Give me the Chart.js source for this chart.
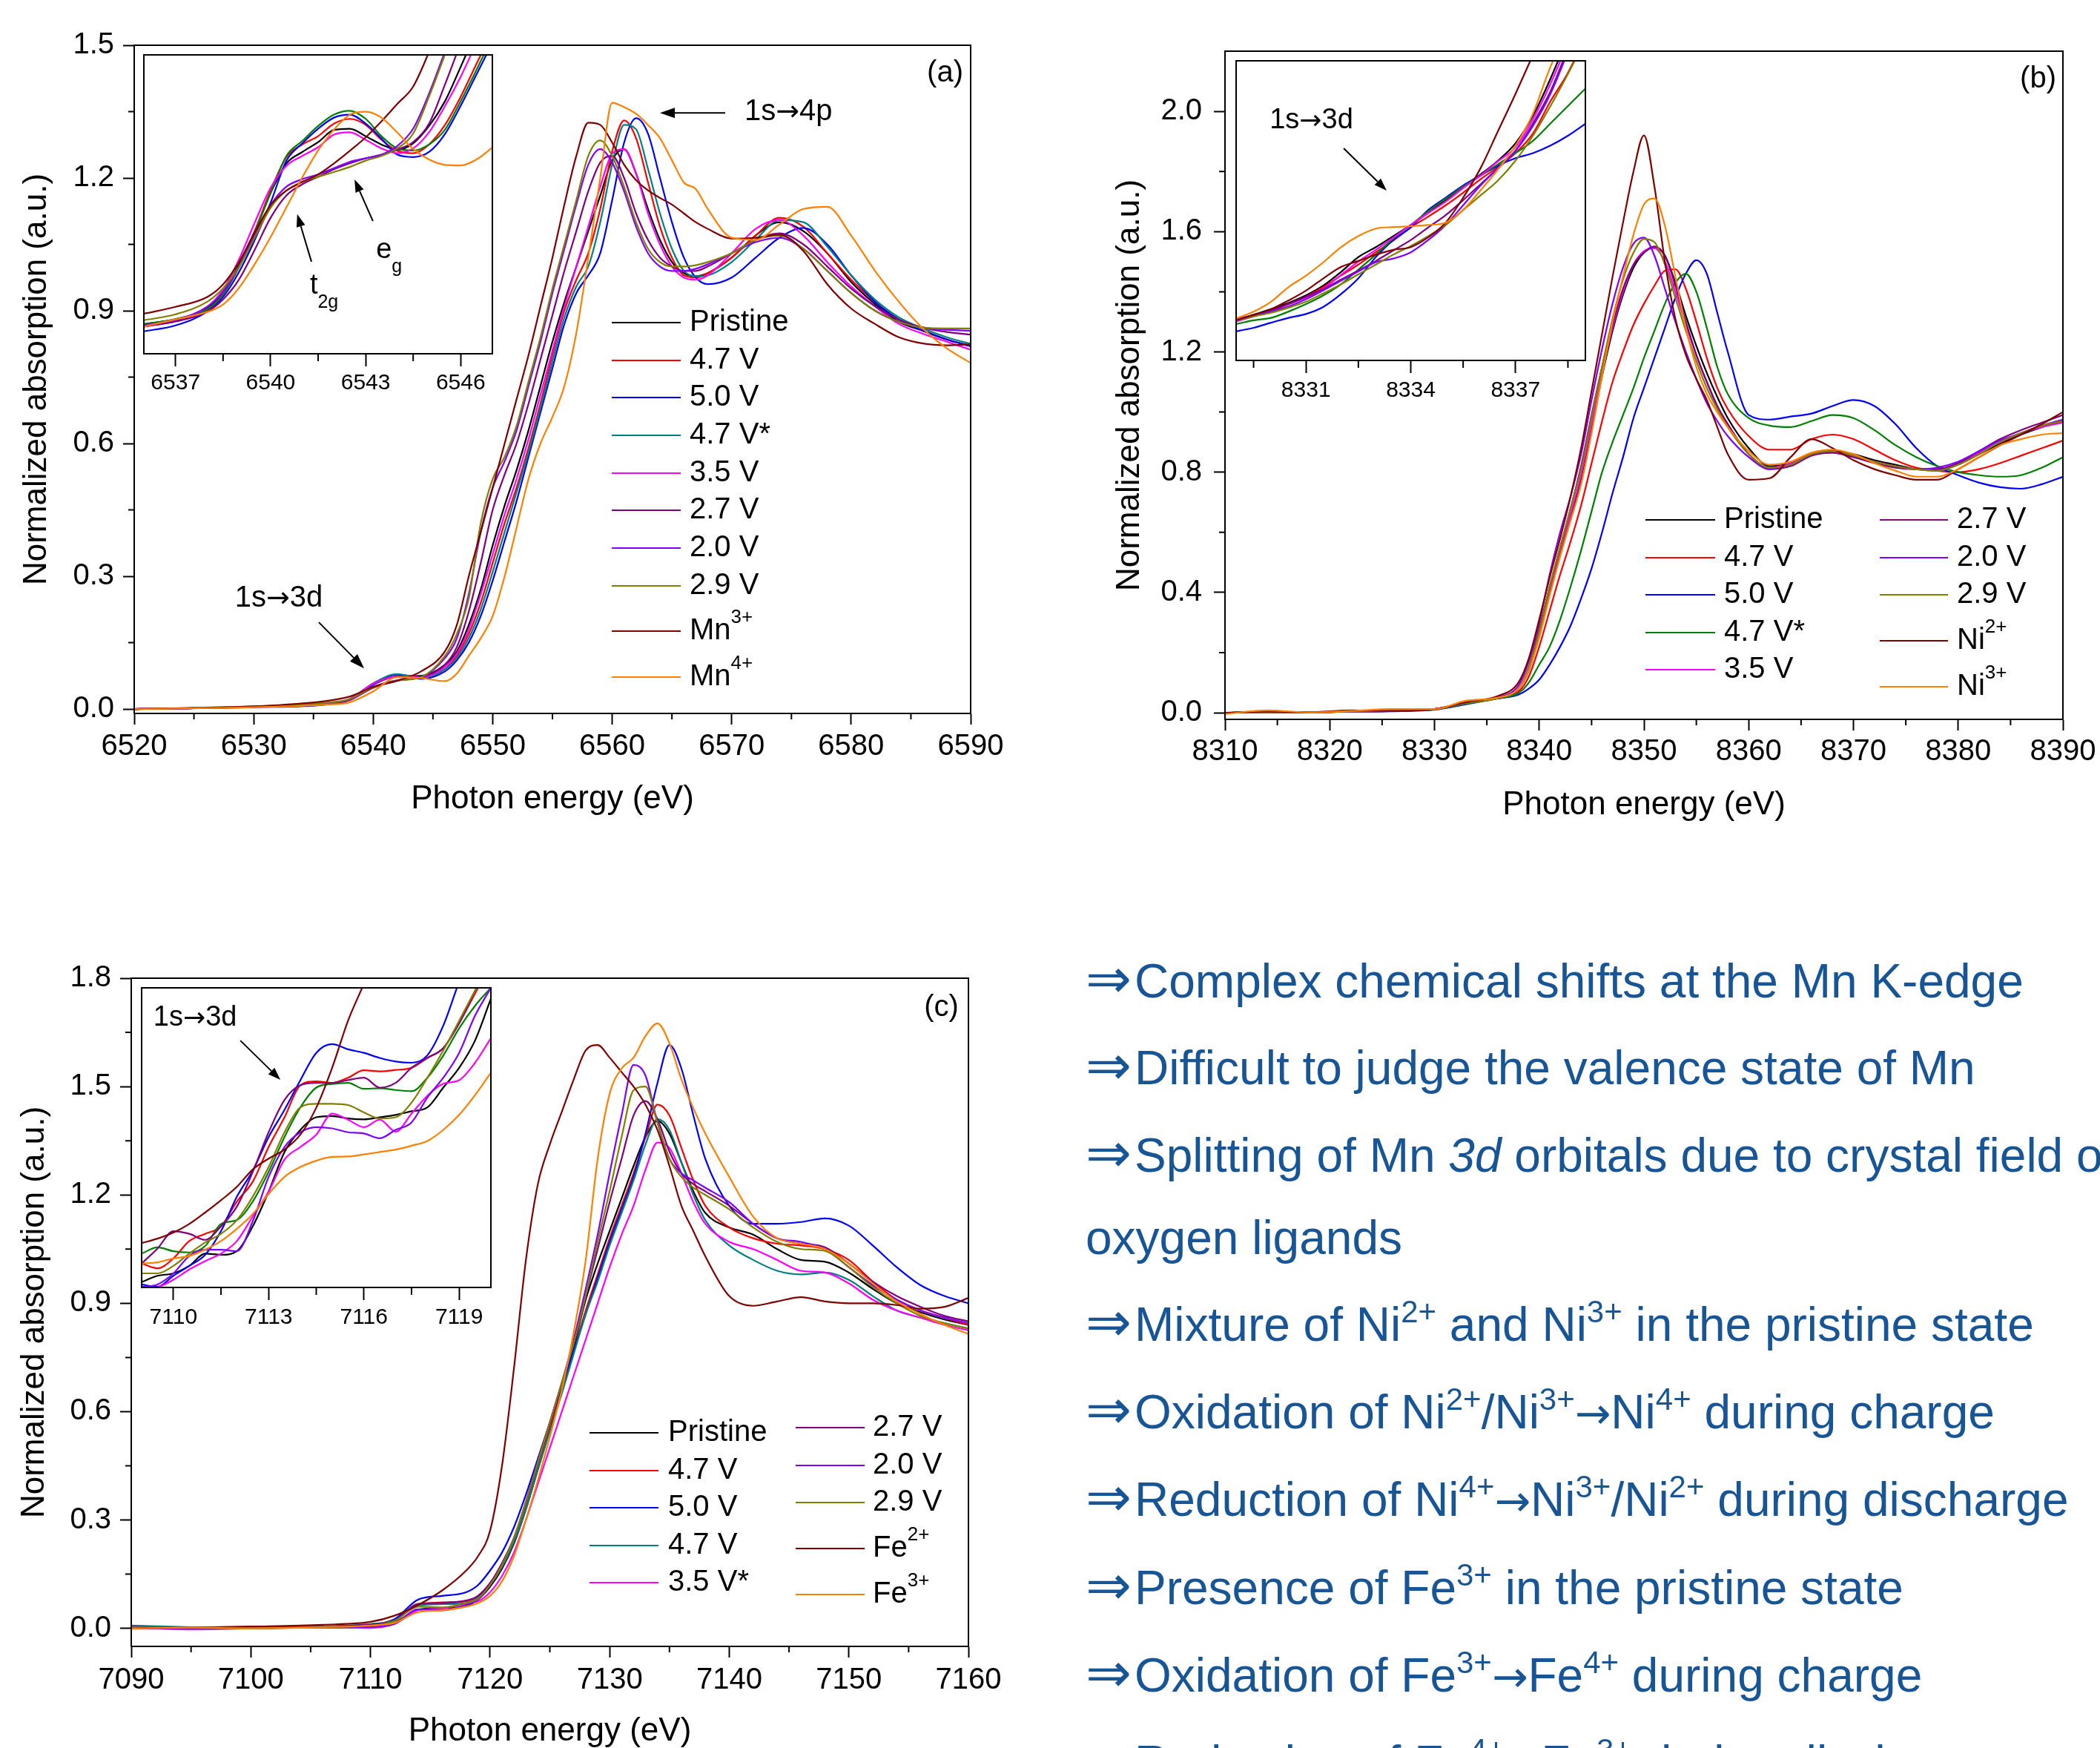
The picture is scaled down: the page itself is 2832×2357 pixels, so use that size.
<!DOCTYPE html>
<html><head><meta charset="utf-8">
<script src="https://cdn.jsdelivr.net/npm/chart.js@4.4.1/dist/chart.umd.min.js"></script>
<style>
html,body{margin:0;padding:0;background:#fff;}
body{width:2832px;height:2357px;position:relative;overflow:hidden;font-family:"Liberation Sans",Arial,sans-serif;}
canvas{position:absolute;}
#notes{position:absolute;left:1464px;top:0;width:1368px;height:2357px;color:#175596;font-size:64px;white-space:nowrap;overflow:hidden;}
.ln{position:absolute;left:0;line-height:64px;height:64px;}
.ar{display:inline-block;width:66px;font-family:"DejaVu Sans",sans-serif;font-size:74px;line-height:0;}
.ra{font-family:"DejaVu Sans",sans-serif;font-size:58px;line-height:0;}
sup{font-size:42px;vertical-align:25px;line-height:0;}
</style></head>
<body>
<canvas id="cA" width="1400" height="1130" style="left:0;top:0;width:1400px;height:1130px"></canvas>
<canvas id="cB" width="1352" height="1140" style="left:1480px;top:0;width:1352px;height:1140px"></canvas>
<canvas id="cC" width="1400" height="1140" style="left:0;top:1250px;width:1400px;height:1140px"></canvas>
<canvas id="iA" width="476" height="460" style="left:192px;top:72px;width:476px;height:460px"></canvas>
<canvas id="iB" width="480" height="460" style="left:1663px;top:78px;width:480px;height:460px"></canvas>
<canvas id="iC" width="480" height="460" style="left:187px;top:1328px;width:480px;height:460px"></canvas>
<div id="notes">
<div class="ln" style="top:1291px"><span class="ar">⇒</span>Complex chemical shifts at the Mn K-edge</div>
<div class="ln" style="top:1408px"><span class="ar">⇒</span>Difficult to judge the valence state of Mn</div>
<div class="ln" style="top:1526px"><span class="ar">⇒</span>Splitting of Mn <i>3d</i> orbitals due to crystal field of</div>
<div class="ln" style="top:1637px">oxygen ligands</div>
<div class="ln" style="top:1754px"><span class="ar">⇒</span>Mixture of Ni<sup>2+</sup> and Ni<sup>3+</sup> in the pristine state</div>
<div class="ln" style="top:1872px"><span class="ar">⇒</span>Oxidation of Ni<sup>2+</sup>/Ni<sup>3+</sup><span class="ra">→</span>Ni<sup>4+</sup> during charge</div>
<div class="ln" style="top:1990px"><span class="ar">⇒</span>Reduction of Ni<sup>4+</sup><span class="ra">→</span>Ni<sup>3+</sup>/Ni<sup>2+</sup> during discharge</div>
<div class="ln" style="top:2109px"><span class="ar">⇒</span>Presence of Fe<sup>3+</sup> in the pristine state</div>
<div class="ln" style="top:2227px"><span class="ar">⇒</span>Oxidation of Fe<sup>3+</sup><span class="ra">→</span>Fe<sup>4+</sup> during charge</div>
<div class="ln" style="top:2345px"><span class="ar">⇒</span>Reduction of Fe<sup>4+</sup><span class="ra">→</span>Fe<sup>3+</sup> during discharge</div>
</div>
<script>
// ================= DATA =================
const labelsA = ['Pristine','4.7 V','5.0 V','4.7 V*','3.5 V','2.7 V','2.0 V','2.9 V','Mn^{3+}','Mn^{4+}'];
const labelsB = ['Pristine','4.7 V','5.0 V','4.7 V*','3.5 V','2.7 V','2.0 V','2.9 V','Ni^{2+}','Ni^{3+}'];
const labelsC = ['Pristine','4.7 V','5.0 V','4.7 V','3.5 V*','2.7 V','2.0 V','2.9 V','Fe^{2+}','Fe^{3+}'];
const colorsTeal  = ['#000000','#ff0000','#0000ff','#008080','#ff00ff','#800080','#8000ff','#808000','#800000','#ff8000'];
const colorsGreen = ['#000000','#ff0000','#0000ff','#008000','#ff00ff','#800080','#8000ff','#808000','#800000','#ff8000'];

// ---- Panel (a): Mn K-edge ----
const xTicksA = [6520,6530,6540,6550,6560,6570,6580,6590];
const yTicksA = [0.0,0.3,0.6,0.9,1.2,1.5];
const XA = [6520,6530,6536,6538,6540,6542,6544,6546,6547,6548,6549,6550,6551,6552,6553,6554,6555,6556,6557,6558,6559,6560,6561,6562,6563,6564,6565,6566,6567,6568,6570,6572,6574,6576,6578,6580,6582,6584,6586,6588,6590];
const A_pristine = [0.000,0.005,0.012,0.022,0.055, 0.074,0.075,0.100,0.130,0.190, 0.270,0.370,0.460,0.540,0.630,0.730,0.830,0.920,1.000,1.080, 1.160,1.240,1.265,1.210,1.130,1.060,1.010,0.985,0.978,0.985, 1.020,1.070,1.100,1.080,1.030, 0.965,0.915,0.875,0.855,0.835,0.820];
const A_47 = [0.000,0.005,0.012,0.022,0.058, 0.078,0.072,0.090,0.120,0.170, 0.240,0.330,0.420,0.500,0.590,0.690,0.800,0.900,0.970,1.030, 1.130,1.260,1.330,1.290,1.190,1.090,1.020,0.980,0.975,0.985, 1.020,1.070,1.110,1.090,1.030, 0.970,0.920,0.880,0.855,0.835,0.820];
const A_50 = [0.000,0.004,0.010,0.020,0.055, 0.078,0.068,0.085,0.110,0.150, 0.210,0.290,0.380,0.470,0.570,0.670,0.770,0.870,0.940,0.980, 1.030,1.150,1.280,1.335,1.300,1.200,1.100,1.020,0.975,0.960, 0.975,1.020,1.065,1.087,1.050, 0.980,0.920,0.880,0.855,0.835,0.820];
const A_47s = [0.000,0.005,0.012,0.022,0.058, 0.079,0.070,0.090,0.115,0.160, 0.225,0.310,0.400,0.490,0.580,0.680,0.785,0.885,0.955,1.000, 1.100,1.230,1.320,1.310,1.220,1.120,1.040,0.990,0.978,0.980, 1.010,1.060,1.105,1.100,1.045, 0.980,0.925,0.885,0.860,0.840,0.825];
const A_35 = [0.000,0.005,0.012,0.022,0.057, 0.073,0.072,0.095,0.125,0.180, 0.260,0.350,0.440,0.520,0.610,0.710,0.810,0.910,1.000,1.090, 1.180,1.255,1.265,1.210,1.120,1.050,1.000,0.975,0.970,0.980, 1.030,1.085,1.105,1.070,1.010, 0.955,0.910,0.870,0.848,0.830,0.812];
const A_27 = [0.000,0.005,0.012,0.020,0.048, 0.064,0.072,0.100,0.140,0.220, 0.330,0.450,0.530,0.600,0.690,0.790,0.890,0.990,1.080,1.170, 1.235,1.250,1.200,1.120,1.060,1.020,1.000,0.990,0.990,1.000, 1.030,1.060,1.075,1.050,1.000, 0.950,0.910,0.880,0.862,0.852,0.846];
const A_20 = [0.000,0.005,0.013,0.021,0.050, 0.065,0.072,0.115,0.160,0.260, 0.400,0.500,0.560,0.630,0.730,0.830,0.940,1.040,1.140,1.230, 1.265,1.235,1.170,1.090,1.030,1.000,0.990,0.990,0.995,1.005, 1.030,1.055,1.065,1.040,0.990, 0.940,0.900,0.875,0.862,0.857,0.855];
const A_29 = [0.000,0.006,0.014,0.022,0.049, 0.064,0.072,0.120,0.170,0.250, 0.420,0.520,0.570,0.640,0.740,0.840,0.950,1.050,1.150,1.250, 1.285,1.250,1.180,1.100,1.040,1.010,1.000,1.000,1.003,1.010, 1.030,1.060,1.070,1.040,0.990, 0.940,0.900,0.875,0.862,0.860,0.860];
const A_mn3 = [0.000,0.006,0.018,0.028,0.050, 0.064,0.085,0.130,0.190,0.300, 0.400,0.500,0.600,0.700,0.800,0.910,1.020,1.140,1.250,1.325, 1.320,1.280,1.230,1.195,1.172,1.155,1.140,1.120,1.100,1.085, 1.063,1.065,1.072,1.035,0.960, 0.905,0.870,0.840,0.826,0.822,0.824];
const A_mn4 = [0.000,0.004,0.010,0.015,0.040, 0.072,0.070,0.063,0.080,0.120, 0.160,0.210,0.300,0.410,0.520,0.600,0.660,0.730,0.850,1.020, 1.200,1.370,1.360,1.345,1.320,1.290,1.240,1.190,1.175,1.130, 1.065,1.060,1.095,1.130,1.135, 1.070,0.990,0.920,0.860,0.815,0.782];

// inset (a): pre-edge 6536-6547 eV
const xTicksAi = [6537,6540,6543,6546];
const XAi = [6536,6537,6538,6538.5,6539,6539.5,6540,6540.5,6541,6541.5,6542,6542.5,6543,6543.5,6544,6544.5,6545,6545.5,6546,6546.5,6547];
const iA_pristine = [0.0099,0.0116,0.0153,0.0207,0.0298,0.0410,0.0538,0.0637,0.0675,0.0708,0.0749,0.0753,0.0728,0.0700,0.0683,0.0704,0.0762,0.0844,0.0960,0.1080,0.1200];
const iA_47 = [0.0091,0.0109,0.0145,0.0199,0.0290,0.0410,0.0546,0.0658,0.0700,0.0728,0.0770,0.0786,0.0766,0.0716,0.0679,0.0671,0.0700,0.0765,0.0860,0.0970,0.1080];
const iA_50 = [0.0075,0.0095,0.0141,0.0190,0.0273,0.0381,0.0505,0.0646,0.0704,0.0753,0.0790,0.0800,0.0770,0.0720,0.0666,0.0658,0.0675,0.0735,0.0830,0.0935,0.1040];
const iA_47s = [0.0099,0.0116,0.0149,0.0199,0.0290,0.0406,0.0538,0.0662,0.0712,0.0762,0.0800,0.0813,0.0786,0.0728,0.0687,0.0680,0.0700,0.0749,0.0845,0.0950,0.1060];
const iA_35 = [0.0091,0.0112,0.0157,0.0215,0.0315,0.0439,0.0555,0.0629,0.0662,0.0691,0.0733,0.0741,0.0716,0.0687,0.0671,0.0687,0.0741,0.0828,0.0927,0.1040,0.1150];
const iA_27 = [0.0091,0.0108,0.0141,0.0182,0.0248,0.0348,0.0455,0.0530,0.0567,0.0592,0.0617,0.0637,0.0654,0.0666,0.0683,0.0708,0.0770,0.0900,0.1040,0.1180,0.1300];
const iA_20 = [0.0095,0.0113,0.0157,0.0207,0.0290,0.0397,0.0497,0.0559,0.0584,0.0600,0.0621,0.0642,0.0654,0.0666,0.0695,0.0753,0.0870,0.1010,0.1150,0.1300,0.1450];
const iA_29 = [0.0112,0.0132,0.0174,0.0219,0.0290,0.0389,0.0488,0.0546,0.0575,0.0592,0.0608,0.0625,0.0646,0.0662,0.0687,0.0737,0.0860,0.1000,0.1140,0.1280,0.1420];
const iA_mn3 = [0.0134,0.0157,0.0190,0.0232,0.0306,0.0406,0.0497,0.0546,0.0575,0.0600,0.0637,0.0679,0.0724,0.0778,0.0836,0.0894,0.1010,0.1150,0.1300,0.1450,0.1600];
const iA_mn4 = [0.0091,0.0115,0.0140,0.0165,0.0220,0.0300,0.0390,0.0490,0.0590,0.0680,0.0750,0.0800,0.0810,0.0790,0.0740,0.0685,0.0650,0.0632,0.0630,0.0650,0.0690];

// ---- Panel (b): Ni K-edge ----
const xTicksB = [8310,8320,8330,8340,8350,8360,8370,8380,8390];
const yTicksB = [0.0,0.4,0.8,1.2,1.6,2.0];
const XB = [8310,8314,8318,8322,8326,8330,8333,8336,8338,8339,8340,8341,8342,8343,8344,8345,8346,8347,8348,8349,8350,8351,8352,8353,8354,8355,8356,8357,8358,8360,8362,8364,8366,8368,8370,8372,8374,8376,8378,8380,8382,8384,8386,8388,8390];
const B_pristine = [0.000,0.002,0.002,0.004,0.006,0.012,0.033,0.050, 0.080,0.140,0.260,0.400,0.530,0.650,0.780,0.950,1.120,1.270, 1.390,1.480,1.530,1.550,1.520,1.430,1.320,1.220,1.130,1.050,0.980, 0.880,0.820,0.830,0.860,0.870,0.860,0.840,0.825,0.810,0.805,0.825,0.860,0.895,0.925,0.950,0.970];
const B_47 = [0.000,0.002,0.002,0.004,0.006,0.012,0.032,0.048, 0.070,0.120,0.220,0.340,0.460,0.570,0.690,0.830,0.970,1.100, 1.200,1.290,1.360,1.420,1.470,1.475,1.410,1.300,1.180,1.080,1.010, 0.920,0.875,0.875,0.910,0.925,0.910,0.875,0.840,0.815,0.805,0.800,0.810,0.830,0.855,0.880,0.905];
const B_50 = [0.000,0.002,0.002,0.004,0.005,0.010,0.028,0.047, 0.060,0.080,0.110,0.160,0.220,0.290,0.380,0.480,0.600,0.730, 0.850,0.980,1.080,1.180,1.280,1.380,1.460,1.505,1.460,1.330,1.200, 0.990,0.975,0.985,0.995,1.020,1.040,1.020,0.960,0.880,0.820,0.790,0.765,0.750,0.745,0.760,0.785];
const B_47s = [0.000,0.002,0.002,0.004,0.006,0.011,0.030,0.048, 0.065,0.100,0.160,0.220,0.310,0.420,0.540,0.670,0.800,0.900, 0.990,1.080,1.180,1.270,1.360,1.430,1.460,1.400,1.280,1.150,1.060, 0.980,0.955,0.950,0.970,0.990,0.980,0.940,0.890,0.850,0.820,0.800,0.790,0.785,0.790,0.815,0.850];
const B_35 = [0.000,0.002,0.002,0.004,0.006,0.012,0.033,0.050, 0.080,0.150,0.270,0.410,0.540,0.660,0.790,0.960,1.130,1.280, 1.400,1.490,1.535,1.545,1.500,1.400,1.290,1.190,1.100,1.020,0.960, 0.860,0.815,0.830,0.860,0.865,0.850,0.835,0.820,0.810,0.810,0.830,0.865,0.900,0.930,0.950,0.965];
const B_27 = [0.000,0.002,0.002,0.004,0.006,0.012,0.033,0.050, 0.080,0.150,0.280,0.420,0.550,0.680,0.820,0.990,1.150,1.290, 1.410,1.490,1.530,1.550,1.520,1.420,1.300,1.190,1.100,1.020,0.960, 0.860,0.810,0.820,0.855,0.865,0.850,0.830,0.815,0.810,0.810,0.830,0.870,0.910,0.940,0.965,0.990];
const B_20 = [0.000,0.002,0.002,0.004,0.006,0.012,0.034,0.050, 0.090,0.170,0.300,0.460,0.600,0.720,0.860,1.040,1.210,1.360, 1.480,1.560,1.580,1.520,1.410,1.300,1.200,1.110,1.030,0.970,0.920, 0.850,0.810,0.825,0.860,0.870,0.855,0.835,0.820,0.810,0.815,0.835,0.870,0.905,0.930,0.955,0.975];
const B_29 = [0.000,0.002,0.002,0.004,0.006,0.012,0.032,0.048, 0.080,0.150,0.270,0.420,0.550,0.680,0.810,0.980,1.150,1.310, 1.440,1.530,1.575,1.565,1.490,1.380,1.270,1.170,1.080,1.010,0.950, 0.860,0.815,0.825,0.860,0.870,0.855,0.835,0.820,0.810,0.805,0.825,0.860,0.900,0.930,0.955,0.970];
const B_ni2 = [0.000,0.004,0.002,0.008,0.006,0.012,0.035,0.055, 0.100,0.180,0.310,0.450,0.580,0.720,0.880,1.070,1.260,1.450, 1.630,1.800,1.920,1.750,1.500,1.310,1.190,1.110,1.040,0.950,0.860, 0.775,0.780,0.850,0.910,0.880,0.840,0.810,0.790,0.775,0.775,0.810,0.850,0.890,0.925,0.960,1.000];
const B_ni3 = [-0.004,0.008,0.001,0.006,0.012,0.012,0.040,0.050, 0.080,0.140,0.250,0.390,0.520,0.640,0.760,0.930,1.120,1.300, 1.450,1.590,1.690,1.710,1.620,1.450,1.280,1.150,1.060,1.000,0.950, 0.870,0.825,0.835,0.865,0.875,0.860,0.830,0.805,0.785,0.785,0.810,0.850,0.890,0.910,0.925,0.930];

// inset (b): pre-edge 8329-8339 eV
const xTicksBi = [8331,8334,8337];
const XBi = [8329,8329.5,8330,8330.5,8331,8331.5,8332,8332.5,8333,8333.5,8334,8334.5,8335,8335.5,8336,8336.5,8337,8337.5,8338,8338.5,8339];
const iB_pristine = [0.0134,0.0153,0.0171,0.0192,0.0217,0.0250,0.0295,0.0345,0.0378,0.0415,0.0452,0.0493,0.0535,0.0580,0.0621,0.0667,0.0725,0.0816,0.0940,0.1080,0.1220];
const iB_47 = [0.0134,0.0148,0.0163,0.0188,0.0213,0.0245,0.0283,0.0320,0.0361,0.0400,0.0444,0.0480,0.0518,0.0560,0.0605,0.0646,0.0692,0.0758,0.0865,0.0960,0.1080];
const iB_50 = [0.0097,0.0109,0.0126,0.0142,0.0155,0.0179,0.0221,0.0274,0.0345,0.0402,0.0444,0.0502,0.0543,0.0584,0.0617,0.0650,0.0675,0.0692,0.0717,0.0750,0.0790];
const iB_47s = [0.0121,0.0134,0.0142,0.0163,0.0188,0.0217,0.0254,0.0303,0.0353,0.0407,0.0452,0.0498,0.0539,0.0580,0.0617,0.0655,0.0692,0.0733,0.0791,0.0849,0.0907];
const iB_35 = [0.0130,0.0147,0.0165,0.0188,0.0210,0.0240,0.0285,0.0330,0.0369,0.0410,0.0452,0.0492,0.0530,0.0575,0.0617,0.0665,0.0712,0.0804,0.0923,0.1060,0.1200];
const iB_27 = [0.0138,0.0151,0.0167,0.0188,0.0213,0.0238,0.0270,0.0300,0.0332,0.0367,0.0402,0.0444,0.0485,0.0535,0.0588,0.0642,0.0700,0.0791,0.0898,0.1040,0.1180];
const iB_20 = [0.0138,0.0151,0.0163,0.0180,0.0204,0.0234,0.0266,0.0297,0.0328,0.0340,0.0361,0.0402,0.0452,0.0518,0.0584,0.0642,0.0700,0.0783,0.0890,0.1030,0.1170];
const iB_29 = [0.0134,0.0147,0.0159,0.0176,0.0196,0.0224,0.0254,0.0287,0.0320,0.0353,0.0382,0.0415,0.0452,0.0502,0.0551,0.0601,0.0667,0.0750,0.0849,0.0956,0.1070];
const iB_ni2 = [0.0134,0.0152,0.0171,0.0200,0.0233,0.0274,0.0312,0.0332,0.0353,0.0369,0.0378,0.0411,0.0460,0.0543,0.0642,0.0766,0.0890,0.1020,0.1150,0.1300,0.1450];
const iB_ni3 = [0.0140,0.0163,0.0196,0.0245,0.0283,0.0328,0.0378,0.0415,0.0440,0.0445,0.0448,0.0452,0.0460,0.0502,0.0568,0.0638,0.0717,0.0824,0.0980,0.1100,0.1220];

// ---- Panel (c): Fe K-edge ----
const xTicksC = [7090,7100,7110,7120,7130,7140,7150,7160];
const yTicksC = [0.0,0.3,0.6,0.9,1.2,1.5,1.8];
const XC = [7090,7095,7100,7106,7110,7112,7114,7116,7118,7119,7120,7121,7122,7123,7124,7125,7126,7127,7128,7129,7130,7131,7132,7133,7134,7135,7136,7137,7138,7140,7142,7144,7146,7148,7150,7152,7154,7156,7158,7160];
const C_pristine = [0.003,0.000,0.002,0.004,0.006, 0.015,0.052,0.056,0.062,0.080, 0.115,0.165,0.235,0.330,0.440,0.550,0.660,0.780,0.910,1.010, 1.100,1.190,1.280,1.360,1.405,1.370,1.290,1.210,1.150, 1.110,1.090,1.050,1.020,1.015,0.985,0.940,0.900,0.875,0.855,0.840];
const C_47 = [0.004,0.002,0.000,0.006,0.010, 0.025,0.065,0.072,0.075,0.090, 0.125,0.180,0.250,0.340,0.450,0.560,0.660,0.770,0.880,0.980, 1.080,1.170,1.260,1.360,1.450,1.420,1.330,1.240,1.170, 1.110,1.080,1.065,1.060,1.050,1.020,0.960,0.910,0.880,0.860,0.840];
const C_50 = [0.006,0.000,0.003,0.002,0.004, 0.025,0.080,0.090,0.100,0.120, 0.160,0.210,0.280,0.370,0.470,0.570,0.670,0.770,0.870,0.970, 1.070,1.160,1.250,1.370,1.510,1.615,1.550,1.420,1.300, 1.170,1.120,1.120,1.125,1.135,1.115,1.060,1.000,0.950,0.920,0.900];
const C_47b = [0.008,0.003,0.001,0.005,0.012, 0.022,0.063,0.067,0.070,0.085, 0.120,0.170,0.240,0.330,0.440,0.545,0.650,0.760,0.870,0.960, 1.060,1.150,1.240,1.340,1.410,1.380,1.290,1.200,1.130, 1.060,1.020,0.990,0.980,0.985,0.965,0.920,0.880,0.860,0.845,0.830];
const C_35 = [0.002,-0.003,0.000,0.003,0.001, 0.012,0.050,0.055,0.068,0.075, 0.100,0.145,0.210,0.300,0.400,0.500,0.600,0.700,0.800,0.900, 1.000,1.090,1.170,1.270,1.345,1.330,1.260,1.180,1.120, 1.070,1.050,1.020,0.990,0.985,0.955,0.910,0.880,0.860,0.840,0.825];
const C_27 = [0.004,0.001,0.000,0.004,0.011, 0.020,0.068,0.070,0.077,0.090, 0.125,0.180,0.250,0.350,0.460,0.570,0.680,0.790,0.920,1.050, 1.180,1.300,1.420,1.460,1.410,1.320,1.260,1.230,1.210, 1.170,1.120,1.080,1.065,1.055,1.010,0.960,0.920,0.890,0.865,0.850];
const C_20 = [0.002,0.000,0.002,0.003,0.004, 0.012,0.053,0.050,0.065,0.080, 0.120,0.175,0.250,0.350,0.460,0.570,0.680,0.800,0.940,1.090, 1.260,1.420,1.560,1.530,1.400,1.300,1.260,1.240,1.220, 1.180,1.120,1.080,1.070,1.050,1.000,0.950,0.910,0.880,0.860,0.845];
const C_29 = [0.003,0.001,0.000,0.004,0.007, 0.020,0.060,0.058,0.070,0.082, 0.120,0.175,0.250,0.350,0.460,0.570,0.680,0.790,0.920,1.070, 1.210,1.360,1.490,1.500,1.400,1.300,1.250,1.220,1.200, 1.160,1.110,1.070,1.050,1.045,1.000,0.945,0.900,0.865,0.845,0.830];
const C_fe2 = [0.000,0.002,0.005,0.010,0.018, 0.035,0.065,0.105,0.160,0.200, 0.270,0.450,0.720,1.020,1.230,1.340,1.430,1.520,1.600,1.615, 1.580,1.540,1.500,1.450,1.380,1.280,1.170,1.100,1.030, 0.920,0.893,0.905,0.917,0.905,0.900,0.900,0.895,0.885,0.890,0.915];
const C_fe3 = [0.000,0.002,0.000,0.003,0.008, 0.015,0.045,0.050,0.060,0.070, 0.090,0.130,0.200,0.300,0.410,0.530,0.660,0.820,1.020,1.300, 1.480,1.550,1.580,1.640,1.675,1.620,1.520,1.440,1.370, 1.250,1.140,1.080,1.065,1.050,1.010,0.955,0.905,0.870,0.840,0.815];

// inset (c): pre-edge 7109-7120 eV
const xTicksCi = [7110,7113,7116,7119];
const XCi = [7109,7109.5,7110,7110.5,7111,7111.5,7112,7112.5,7113,7113.5,7114,7114.5,7115,7115.5,7116,7116.5,7117,7117.5,7118,7118.5,7119,7119.5,7120];
const iC_pristine = [0.0018,0.0039,0.0047,0.0072,0.0113,0.0109,0.0121,0.0204,0.0320,0.0452,0.0526,0.0568,0.0572,0.0564,0.0561,0.0568,0.0576,0.0588,0.0601,0.0667,0.0733,0.0824,0.0964];
const iC_47 = [0.0080,0.0064,0.0097,0.0155,0.0179,0.0204,0.0287,0.0353,0.0469,0.0568,0.0675,0.0688,0.0683,0.0700,0.0725,0.0721,0.0726,0.0733,0.0766,0.0799,0.0882,0.0981,0.1080];
const iC_50 = [0.0010,0.0002,0.0039,0.0072,0.0109,0.0188,0.0303,0.0390,0.0502,0.0593,0.0692,0.0783,0.0812,0.0795,0.0783,0.0766,0.0754,0.0750,0.0775,0.0874,0.1020,0.1150,0.1280];
const iC_47b = [0.0113,0.0134,0.0121,0.0117,0.0138,0.0212,0.0225,0.0287,0.0386,0.0502,0.0601,0.0667,0.0679,0.0683,0.0663,0.0665,0.0659,0.0655,0.0700,0.0774,0.0865,0.0940,0.1000];
const iC_35 = [-0.0010,0.0000,0.0026,0.0060,0.0088,0.0113,0.0155,0.0237,0.0320,0.0427,0.0469,0.0510,0.0580,0.0560,0.0535,0.0560,0.0520,0.0580,0.0640,0.0680,0.0692,0.0750,0.0832];
const iC_27 = [0.0080,0.0130,0.0188,0.0179,0.0159,0.0204,0.0270,0.0386,0.0518,0.0626,0.0675,0.0683,0.0683,0.0692,0.0700,0.0667,0.0683,0.0733,0.0766,0.0799,0.0882,0.0990,0.1100];
const iC_20 = [0.0002,0.0010,0.0047,0.0105,0.0126,0.0126,0.0121,0.0221,0.0369,0.0469,0.0518,0.0535,0.0531,0.0518,0.0514,0.0498,0.0526,0.0551,0.0634,0.0700,0.0783,0.0907,0.1000];
const iC_29 = [0.0047,0.0047,0.0072,0.0113,0.0150,0.0179,0.0225,0.0303,0.0402,0.0518,0.0601,0.0613,0.0613,0.0609,0.0584,0.0564,0.0568,0.0617,0.0700,0.0791,0.0890,0.0990,0.1080];
const iC_fe2 = [0.0148,0.0163,0.0183,0.0212,0.0250,0.0291,0.0336,0.0394,0.0430,0.0460,0.0510,0.0600,0.0733,0.0890,0.1014,0.1150,0.1300,0.1450,0.1600,0.1750,0.1900,0.2050,0.2200];
const iC_fe3 = [0.0080,0.0084,0.0097,0.0105,0.0126,0.0155,0.0196,0.0245,0.0312,0.0369,0.0402,0.0423,0.0436,0.0437,0.0444,0.0452,0.0460,0.0473,0.0489,0.0526,0.0576,0.0642,0.0717];

// ================= DRAWING =================
const FONT = '"Liberation Sans", Arial, sans-serif';
const ARROW_FONT = '"DejaVu Sans", sans-serif';
Chart.defaults.font.family = FONT;
Chart.defaults.color = '#000';

function drawRich(c, str, x, y, size, align) {
  const parts = []; const re = /\^\{([^}]*)\}|_\{([^}]*)\}|(→)|([^^_→]+)/g; let m;
  while ((m = re.exec(str))) {
    if (m[1] !== undefined) parts.push({t: m[1], k: 'sup'});
    else if (m[2] !== undefined) parts.push({t: m[2], k: 'sub'});
    else if (m[3] !== undefined) parts.push({t: m[3], k: 'arr'});
    else parts.push({t: m[4], k: 'n'});
  }
  const fnt = p => p.k === 'arr' ? Math.round(size * 0.95) + 'px ' + ARROW_FONT
                 : (p.k === 'n' ? size : Math.round(size * 0.65)) + 'px ' + FONT;
  let w = 0;
  parts.forEach(p => { c.font = fnt(p); p.w = c.measureText(p.t).width; w += p.w; });
  let cx = align === 'center' ? x - w / 2 : align === 'right' ? x - w : x;
  c.textAlign = 'left'; c.textBaseline = 'middle'; c.fillStyle = '#000';
  parts.forEach(p => {
    c.font = fnt(p);
    const dy = p.k === 'sup' ? -size * 0.45 : p.k === 'sub' ? size * 0.6 : p.k === 'arr' ? size * 0.04 : 0;
    c.fillText(p.t, cx, y + dy); cx += p.w;
  });
}
function drawArrow(c, x1, y1, x2, y2, hl, hw) {
  const a = Math.atan2(y2 - y1, x2 - x1);
  const bx = x2 - hl * Math.cos(a), by = y2 - hl * Math.sin(a);
  c.strokeStyle = '#000'; c.fillStyle = '#000'; c.lineWidth = 2;
  c.beginPath(); c.moveTo(x1, y1); c.lineTo(bx, by); c.stroke();
  c.beginPath(); c.moveTo(x2, y2);
  c.lineTo(bx + hw * Math.sin(a), by - hw * Math.cos(a));
  c.lineTo(bx - hw * Math.sin(a), by + hw * Math.cos(a));
  c.closePath(); c.fill();
}

const decor = {
  id: 'decor',
  beforeDraw(chart, args, o) {
    if (!o.bg) return;
    const a = chart.chartArea, c = chart.ctx;
    c.save(); c.fillStyle = '#fff'; c.fillRect(a.left, a.top, a.right - a.left, a.bottom - a.top); c.restore();
  },
  afterDraw(chart, args, o) {
    const c = chart.ctx, a = chart.chartArea, xs = chart.scales.x, ys = chart.scales.y;
    c.save();
    c.strokeStyle = '#000'; c.lineWidth = 2;
    c.strokeRect(a.left, a.top, a.right - a.left, a.bottom - a.top);
    c.beginPath();
    (o.minorX || []).forEach(v => { const p = xs.getPixelForValue(v); c.moveTo(p, a.bottom); c.lineTo(p, a.bottom + o.minorLen); });
    (o.minorY || []).forEach(v => { const p = ys.getPixelForValue(v); c.moveTo(a.left, p); c.lineTo(a.left - o.minorLen, p); });
    c.stroke();
    if (o.legend) {
      const ds = chart.data.datasets;
      o.legend.cols.forEach(col => {
        col.rows.forEach((yy, k) => {
          const d = ds[col.start + k];
          c.strokeStyle = d.borderColor; c.lineWidth = 2.2;
          c.beginPath(); c.moveTo(col.x1, yy); c.lineTo(col.x2, yy); c.stroke();
          drawRich(c, d.label, col.tx, yy, o.legend.size, 'left');
        });
      });
    }
    (o.notes || []).forEach(n => {
      if (n.arrow) {
        const q = n.arrow;
        drawArrow(c, xs.getPixelForValue(q[0]), ys.getPixelForValue(q[1]), xs.getPixelForValue(q[2]), ys.getPixelForValue(q[3]), n.hl || 20, n.hw || 7);
      } else {
        drawRich(c, n.text, xs.getPixelForValue(n.x), ys.getPixelForValue(n.y), n.size, n.align);
      }
    });
    c.restore();
  }
};

const pts = (xs, ys) => xs.map((x, i) => ({x: x, y: ys[i]}));

function makeChart(id, cfg) {
  const n = cfg.series.length;
  const axisCommon = (tl) => ({
    grid: {display: true, drawOnChartArea: false, drawTicks: true, tickLength: tl, tickWidth: 2, tickColor: '#000'},
    border: {display: true, color: '#000', width: 2}
  });
  return new Chart(document.getElementById(id), {
    type: 'line',
    data: {datasets: cfg.series.map((ys, i) => ({
      label: cfg.labels[i], data: pts(cfg.x, ys), borderColor: cfg.colors[i], backgroundColor: cfg.colors[i],
      borderWidth: 2.2, pointRadius: 0, pointHoverRadius: 0, fill: false,
      cubicInterpolationMode: 'monotone', order: n - i
    }))},
    options: {
      responsive: false, animation: false, devicePixelRatio: 1, events: [],
      layout: {padding: cfg.pad},
      plugins: {legend: {display: false}, tooltip: {enabled: false}, decor: cfg.decor},
      scales: {
        x: Object.assign(axisCommon(cfg.tl), {
          type: 'linear', min: cfg.xMin, max: cfg.xMax,
          afterBuildTicks: s => { s.ticks = cfg.xTicks.map(v => ({value: v})); },
          afterFit: s => { s.height = cfg.xH; },
          ticks: {autoSkip: false, maxRotation: 0, minRotation: 0, padding: cfg.xPad, font: {size: cfg.tickFont}, color: '#000', callback: v => String(v)},
          title: cfg.xTitlePad !== undefined ? {display: true, text: 'Photon energy (eV)', font: {size: 44}, color: '#000', padding: {top: 0, bottom: cfg.xTitlePad}} : {display: false}
        }),
        y: Object.assign(axisCommon(15), {
          type: 'linear', min: cfg.yMin, max: cfg.yMax, display: !!cfg.yTicks,
          afterBuildTicks: s => { if (cfg.yTicks) s.ticks = cfg.yTicks.map(v => ({value: v})); },
          afterFit: s => { if (cfg.yW) s.width = cfg.yW; },
          ticks: {autoSkip: false, padding: cfg.yPad || 12, font: {size: 40}, color: '#000', callback: v => Number(v).toFixed(1)},
          title: cfg.yTitlePad !== undefined ? {display: true, text: 'Normalized absorption (a.u.)', font: {size: 44}, color: '#000', padding: {top: cfg.yTitlePad, bottom: 0}} : {display: false}
        })
      }
    },
    plugins: [decor]
  });
}

// ---- main (a) ----
makeChart('cA', {
  x: XA, series: [A_pristine, A_47, A_50, A_47s, A_35, A_27, A_20, A_29, A_mn3, A_mn4],
  labels: labelsA, colors: colorsTeal,
  xMin: 6520, xMax: 6590, yMin: -0.01, yMax: 1.5, xTicks: xTicksA, yTicks: yTicksA,
  pad: {left: 0, top: 61, right: 91, bottom: 0}, yW: 181, xH: 168, tl: 15, tickFont: 40, xPad: 6, yPad: 12,
  xTitlePad: 25.6, yTitlePad: 23.6,
  decor: {
    minorX: [6525, 6535, 6545, 6555, 6565, 6575, 6585], minorY: [0.15, 0.45, 0.75, 1.05, 1.35], minorLen: 8,
    legend: {size: 40, cols: [{x1: 825, x2: 918, tx: 930, start: 0, rows: [435, 486, 536, 587, 638, 688, 739, 790, 851, 913]}]},
    notes: [
      {text: '(a)', x: 6589.38, y: 1.437, align: 'right', size: 40},
      {text: '1s→4p', x: 6571.07, y: 1.35, align: 'left', size: 40},
      {arrow: [6569.46, 1.347, 6564.0, 1.347]},
      {text: '1s→3d', x: 6532.1, y: 0.25, align: 'center', size: 40},
      {arrow: [6535.45, 0.196, 6539.24, 0.092]}
    ]
  }
});
// ---- main (b) ----
makeChart('cB', {
  x: XB, series: [B_pristine, B_47, B_50, B_47s, B_35, B_27, B_20, B_29, B_ni2, B_ni3],
  labels: labelsB, colors: colorsGreen,
  xMin: 8310, xMax: 8390, yMin: -0.022, yMax: 2.2, xTicks: xTicksB, yTicks: yTicksB,
  pad: {left: 0, top: 69, right: 50, bottom: 0}, yW: 172, xH: 170, tl: 15, tickFont: 40, xPad: 5, yPad: 16,
  xTitlePad: 27.6, yTitlePad: 17.6,
  decor: {
    minorX: [8315, 8325, 8335, 8345, 8355, 8365, 8375, 8385], minorY: [0.2, 0.6, 1.0, 1.4, 1.8], minorLen: 8,
    legend: {size: 40, cols: [
      {x1: 739, x2: 833, tx: 845, start: 0, rows: [701, 752, 802, 853, 903]},
      {x1: 1055, x2: 1147, tx: 1159, start: 5, rows: [701, 752, 802, 864, 926]}
    ]},
    notes: [{text: '(b)', x: 8389.36, y: 2.106, align: 'right', size: 40}]
  }
});
// ---- main (c) ----
makeChart('cC', {
  x: XC, series: [C_pristine, C_47, C_50, C_47b, C_35, C_27, C_20, C_29, C_fe2, C_fe3],
  labels: labelsC, colors: colorsTeal,
  xMin: 7090, xMax: 7160, yMin: -0.05, yMax: 1.8, xTicks: xTicksC, yTicks: yTicksC,
  pad: {left: 0, top: 69, right: 94, bottom: 0}, yW: 177, xH: 170, tl: 15, tickFont: 40, xPad: 7, yPad: 12,
  xTitlePad: 28.6, yTitlePad: 20.6,
  decor: {
    minorX: [7095, 7105, 7115, 7125, 7135, 7145, 7155], minorY: [0.15, 0.45, 0.75, 1.05, 1.35, 1.65], minorLen: 8,
    legend: {size: 40, cols: [
      {x1: 795, x2: 888, tx: 901, start: 0, rows: [682, 733, 783, 834, 884]},
      {x1: 1073, x2: 1166, tx: 1177, start: 5, rows: [675, 726, 776, 838, 900]}
    ]},
    notes: [{text: '(c)', x: 7159.19, y: 1.718, align: 'right', size: 40}]
  }
});
// ---- insets ----
makeChart('iA', {
  x: XAi, series: [iA_pristine, iA_47, iA_50, iA_47s, iA_35, iA_27, iA_20, iA_29, iA_mn3, iA_mn4],
  labels: labelsA, colors: colorsGreen,
  xMin: 6536, xMax: 6547, yMin: 0, yMax: 0.1, xTicks: xTicksAi,
  pad: {left: 2, top: 2, right: 4, bottom: 0}, xH: 55, tl: 17, tickFont: 30, xPad: 5,
  decor: {
    bg: true, minorX: [6538.5, 6541.5, 6544.5], minorLen: 10,
    notes: [
      {text: 't_{2g}', x: 6541.24, y: 0.0227, align: 'left', size: 38},
      {text: 'e_{g}', x: 6543.33, y: 0.0346, align: 'left', size: 38},
      {arrow: [6541.29, 0.0308, 6540.84, 0.0467], hl: 17, hw: 6},
      {arrow: [6543.23, 0.0444, 6542.65, 0.0583], hl: 17, hw: 6}
    ]
  }
});
makeChart('iB', {
  x: XBi, series: [iB_pristine, iB_47, iB_50, iB_47s, iB_35, iB_27, iB_20, iB_29, iB_ni2, iB_ni3],
  labels: labelsB, colors: colorsGreen,
  xMin: 8329, xMax: 8339, yMin: 0, yMax: 0.1, xTicks: xTicksBi,
  pad: {left: 4, top: 4, right: 5, bottom: 0}, xH: 52, tl: 17, tickFont: 30, xPad: 6,
  decor: {
    bg: true, minorX: [8329.5, 8332.5, 8335.5, 8338.5], minorLen: 10,
    notes: [
      {text: '1s→3d', x: 8329.96, y: 0.08, align: 'left', size: 38},
      {arrow: [8332.08, 0.0708, 8333.31, 0.0567], hl: 17, hw: 6}
    ]
  }
});
makeChart('iC', {
  x: XCi, series: [iC_pristine, iC_47, iC_50, iC_47b, iC_35, iC_27, iC_20, iC_29, iC_fe2, iC_fe3],
  labels: labelsC, colors: colorsGreen,
  xMin: 7109, xMax: 7120, yMin: 0, yMax: 0.1, xTicks: xTicksCi,
  pad: {left: 4, top: 4, right: 5, bottom: 0}, xH: 52, tl: 17, tickFont: 30, xPad: 6,
  decor: {
    bg: true, minorX: [7111.5, 7114.5, 7117.5], minorLen: 10,
    notes: [
      {text: '1s→3d', x: 7109.37, y: 0.0899, align: 'left', size: 38},
      {arrow: [7112.11, 0.0824, 7113.37, 0.0693], hl: 17, hw: 6}
    ]
  }
});
</script>
</body></html>
